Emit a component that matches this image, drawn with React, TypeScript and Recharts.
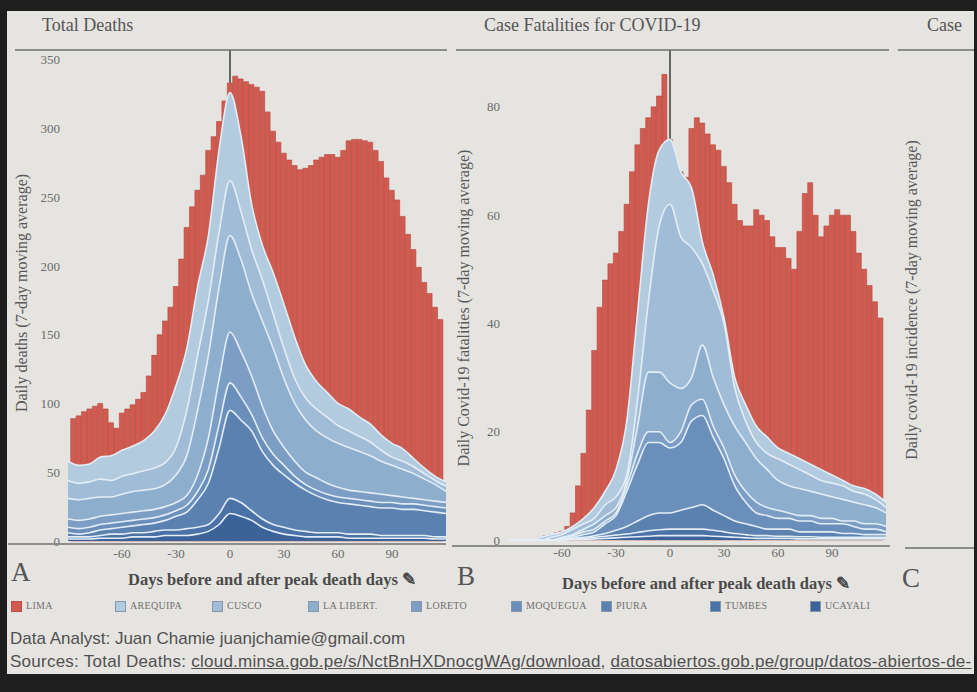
import { Area, Bar, ComposedChart, ReferenceLine, XAxis, YAxis } from "recharts";

// days relative to the peak death day
const barDays = [
  -87, -84, -81, -78, -75, -72, -69, -66, -63, -60, -57, -54, -51, -48, -45, -42, -39, -36, -33, -30, -27, -24, -21,
  -18, -15, -12, -9, -6, -3, 0, 3, 6, 9, 12, 15, 18, 21, 24, 27, 30, 33, 36, 39, 42, 45, 48, 51, 54, 57, 60, 63, 66,
  69, 72, 75, 78, 81, 84, 87, 90, 93, 96, 99, 102, 105, 108, 111, 114, 117,
];
const bandDays = [
  -90, -84, -78, -72, -66, -60, -54, -48, -42, -36, -30, -24, -18, -12, -6, 0, 6, 12, 18, 24, 30, 36, 42, 48, 54, 60,
  66, 72, 78, 84, 90, 96, 102, 108, 114, 120,
];
const dayTicks = [-60, -30, 0, 30, 60, 90];

const regions = ["LIMA", "AREQUIPA", "CUSCO", "LA LIBERT.", "LORETO", "MOQUEGUA", "PIURA", "TUMBES", "UCAYALI"];

// A: total deaths (LIMA bars reach the national total)
const deathsTotal = [
  89, 91, 94, 96, 98, 100, 96, 86, 82, 93, 96, 99, 103, 108, 120, 135, 150, 160, 170, 185, 205, 228, 243, 255, 266,
  284, 294, 305, 320, 333, 338, 336, 334, 332, 330, 327, 312, 298, 290, 282, 277, 273, 270, 271, 273, 277, 279, 281,
  281, 279, 284, 291, 292, 292, 291, 290, 284, 276, 264, 255, 248, 236, 223, 212, 199, 188, 180, 170, 161,
];
// A: top of each stacked band
const arequipaDeaths = [58, 55, 56, 61, 62, 66, 69, 73, 80, 92, 113, 140, 185, 222, 285, 326, 295, 245, 215, 195, 172, 148, 128, 116, 108, 100, 96, 90, 85, 77, 71, 67, 60, 53, 47, 43];
const cuscoDeaths = [44, 42, 43, 45, 44, 47, 49, 51, 53, 57, 68, 95, 135, 175, 225, 262, 240, 212, 190, 165, 140, 118, 104, 96, 90, 84, 80, 76, 72, 66, 61, 58, 54, 49, 44, 40];
const laLibertadDeaths = [31, 30, 31, 32, 32, 34, 36, 37, 38, 41, 48, 62, 95, 135, 185, 222, 205, 180, 160, 140, 118, 100, 88, 80, 75, 71, 68, 65, 62, 58, 55, 52, 49, 45, 41, 36];
const loretoDeaths = [16, 15, 16, 18, 19, 20, 21, 22, 23, 25, 28, 33, 48, 75, 118, 152, 138, 120, 98, 80, 68, 58, 50, 46, 42, 39, 37, 36, 35, 34, 33, 32, 31, 30, 29, 28];
const moqueguaDeaths = [10, 9, 10, 12, 13, 14, 15, 16, 17, 19, 22, 26, 36, 52, 85, 115, 105, 92, 75, 63, 55, 47, 41, 37, 34, 32, 31, 30, 29, 28, 28, 27, 27, 26, 25, 24];
const piuraDeaths = [6, 5, 6, 8, 9, 10, 11, 12, 13, 15, 18, 21, 30, 42, 68, 95, 88, 80, 65, 55, 48, 42, 37, 33, 30, 28, 27, 26, 25, 24, 24, 23, 23, 22, 21, 20];
const tumbesDeaths = [3, 3, 3, 4, 5, 5, 6, 6, 7, 8, 8, 9, 10, 12, 20, 31, 28, 22, 16, 12, 10, 8, 7, 6, 6, 6, 5, 5, 5, 4, 4, 4, 4, 4, 3, 3];
const ucayaliDeaths = [1.5, 1.5, 1.5, 2, 2, 2, 3, 3, 3, 4, 4, 4, 5, 7, 12, 20, 18, 15, 10, 7, 5, 4, 3, 3, 3, 3, 2, 2, 2, 2, 2, 2, 2, 2, 1.5, 1.5];

// B: case fatalities
const fatalitiesTotal = [
  0, 0, 0, 0, 0, 0.5, 0.8, 1, 1.3, 1.6, 2.5, 5, 10, 16, 24, 35, 43, 48, 51, 53, 57, 62, 68, 73, 76, 78, 80, 82, 86, 74,
  70, 68, 67, 76, 78, 77, 75, 73, 72, 69, 66, 62, 59, 58, 58, 61, 60, 59, 56, 54, 54, 52, 50, 57, 64, 66, 60, 56, 58,
  60, 61, 60, 60, 57, 53, 50, 47, 44, 41,
];
const arequipaFatal = [0, 0, 0, 0.5, 1, 1.5, 2.5, 4, 6, 9, 13, 22, 42, 62, 72, 74, 68, 65, 55, 49, 41, 30, 25, 21, 19, 17, 16, 15, 14, 13, 12, 11, 10, 9.5, 8.5, 7];
const cuscoFatal = [0, 0, 0, 0, 0.5, 1, 2, 3, 4, 6.5, 8, 12, 26, 44, 58, 62, 56, 54, 51, 46, 40, 28, 22, 18, 16, 15, 14, 13, 12, 11, 10.5, 10, 9, 8.5, 7.5, 6];
const laLibertadFatal = [0, 0, 0, 0, 0, 0.5, 1, 2, 3, 4.5, 6, 11, 21, 31, 31, 29, 28, 30, 36, 30, 25, 21, 18, 15, 13, 11, 10, 9.5, 9, 8.5, 8, 7.5, 7, 6.5, 6, 5];
const loretoFatal = [0, 0, 0, 0, 0, 0.3, 0.8, 1.5, 2, 3.5, 5, 10, 16, 20, 20, 18, 20, 25, 26, 21, 17, 12, 9, 7, 6, 5.5, 5, 4.5, 4.5, 4, 4, 3.5, 3.5, 3, 3, 2.5];
const moqueguaFatal = [0, 0, 0, 0, 0, 0.2, 0.5, 1, 1.5, 3, 4.5, 9, 14, 18, 18, 17, 18, 22, 23, 19, 15, 10, 7, 5, 4.5, 4, 4, 3.5, 3.5, 3, 3, 3, 2.5, 2, 2, 1.5];
const piuraFatal = [0, 0, 0, 0, 0, 0.1, 0.3, 0.5, 0.8, 1.2, 1.8, 2.5, 3.5, 4.5, 5, 5, 5.5, 6, 6.5, 5.5, 4.5, 3.5, 3, 2.5, 2, 2, 2, 1.5, 1.5, 1.5, 1.5, 1.2, 1.2, 1, 1, 1];
const tumbesFatal = [0, 0, 0, 0, 0, 0, 0.2, 0.3, 0.5, 0.7, 0.9, 1.1, 1.4, 1.7, 1.9, 2, 2, 2, 2, 1.8, 1.5, 1.2, 1, 0.8, 0.8, 0.7, 0.7, 0.6, 0.6, 0.5, 0.5, 0.5, 0.5, 0.5, 0.5, 0.5];
const ucayaliFatal = [0, 0, 0, 0, 0, 0, 0.1, 0.1, 0.2, 0.3, 0.4, 0.5, 0.6, 0.7, 0.8, 0.8, 0.8, 0.8, 0.8, 0.7, 0.6, 0.5, 0.4, 0.3, 0.3, 0.3, 0.3, 0.2, 0.2, 0.2, 0.2, 0.2, 0.2, 0.2, 0.2, 0.2];

const deathTicks = [0, 50, 100, 150, 200, 250, 300, 350];
const fatalTicks = [0, 20, 40, 60, 80];
const incidenceTicks = [0, 100, 200, 300, 400, 500, 600];

const red = "#d15b50";
const blues = ["#b3cbdf", "#a1bcd6", "#8eaecd", "#7c9ec4", "#6b8fbb", "#5b81b1", "#4b72a6", "#3c629a"];
const serif = '"Liberation Serif", "DejaVu Serif", serif';
const sans = '"Liberation Sans", Arial, sans-serif';
const tickStyle = { fill: "#6a6a6a", fontSize: 13, fontFamily: serif };

type PanelProps = {
  left: number;
  totals: number[];
  bands: number[][];
  yMax: number;
  yTicks: number[];
  bottom: number;
};

function Panel({ left, totals, bands, yMax, yTicks, bottom }: PanelProps) {
  const barRows = barDays.map((day, i) => ({ day, total: totals[i] }));
  const bandRows = bandDays.map((day, i) => {
    const row: Record<string, number> = { day };
    bands.forEach((b, k) => (row["b" + k] = b[i]));
    return row;
  });
  const peak = totals[barDays.indexOf(0)];
  const size = { width: 460, height: 600 };
  const margin = { top: 50, right: 14, left: 0, bottom };

  return (
    <>
      <div style={{ position: "absolute", left, top: 0 }}>
        <ComposedChart {...size} data={barRows} margin={margin}>
          <XAxis
            dataKey="day"
            type="number"
            domain={[-90, 120]}
            ticks={dayTicks}
            height={30}
            tickLine={false}
            axisLine={false}
            tick={tickStyle}
          />
          <YAxis domain={[0, yMax]} ticks={yTicks} width={68} tickLine={false} axisLine={false} tick={tickStyle} />
          <ReferenceLine
            segment={[
              { x: 0, y: peak },
              { x: 0, y: yMax },
            ]}
            stroke="#666"
            strokeWidth={2}
          />
          <Bar dataKey="total" fill={red} stroke="#b4463d" strokeWidth={0.6} barSize={5} isAnimationActive={false} />
        </ComposedChart>
      </div>
      <div style={{ position: "absolute", left, top: 0 }}>
        <ComposedChart {...size} data={bandRows} margin={margin}>
          <XAxis dataKey="day" type="number" domain={[-90, 120]} height={30} tick={false} tickLine={false} axisLine={false} />
          <YAxis domain={[0, yMax]} width={68} tick={false} tickLine={false} axisLine={false} />
          {bands.map((_, k) => (
            <Area
              key={k}
              dataKey={"b" + k}
              type="monotone"
              fill={blues[k]}
              fillOpacity={1}
              stroke="#e3edf6"
              strokeWidth={1.6}
              dot={false}
              activeDot={false}
              isAnimationActive={false}
            />
          ))}
        </ComposedChart>
      </div>
    </>
  );
}

const abs = (left: number, top: number, extra: React.CSSProperties = {}): React.CSSProperties => ({
  position: "absolute",
  left,
  top,
  whiteSpace: "nowrap",
  ...extra,
});

function RotatedTitle({ cx, cy, text }: { cx: number; cy: number; text: string }) {
  return (
    <div
      style={abs(cx, cy, {
        transform: "translate(-50%, -50%) rotate(-90deg)",
        fontFamily: serif,
        fontSize: 16,
        color: "#585858",
      })}
    >
      {text}
    </div>
  );
}

function Rule({ x1, x2, y }: { x1: number; x2: number; y: number }) {
  return <div style={abs(x1, y, { width: x2 - x1, height: 2, background: "#8d8d8d" })} />;
}

const legendLeft = [11, 115, 212, 308, 411, 511, 601, 710, 810];

export default function App() {
  const deathBands = [arequipaDeaths, cuscoDeaths, laLibertadDeaths, loretoDeaths, moqueguaDeaths, piuraDeaths, tumbesDeaths, ucayaliDeaths];
  const fatalBands = [arequipaFatal, cuscoFatal, laLibertadFatal, loretoFatal, moqueguaFatal, piuraFatal, tumbesFatal, ucayaliFatal];

  return (
    <div style={abs(0, 0, { width: 977, height: 692, background: "#1e1e1e", overflow: "hidden", fontFamily: serif })}>
      <div style={abs(7, 11, { width: 970, height: 663, background: "#e6e4e0" })} />

      <div style={abs(42, 15, { fontSize: 18, color: "#555" })}>Total Deaths</div>
      <div style={abs(484, 15, { fontSize: 18, color: "#555" })}>Case Fatalities for COVID-19</div>
      <div style={abs(927, 15, { fontSize: 18, color: "#555" })}>Case</div>
      <Rule x1={15} x2={447} y={49} />
      <Rule x1={456} x2={889} y={49} />
      <Rule x1={898} x2={977} y={49} />

      <Panel left={0} totals={deathsTotal} bands={deathBands} yMax={357} yTicks={deathTicks} bottom={29} />
      <Panel left={440} totals={fatalitiesTotal} bands={fatalBands} yMax={90.5} yTicks={fatalTicks} bottom={30} />
      <div style={{ position: "absolute", left: 880, top: 0 }}>
        <ComposedChart width={200} height={600} data={[]} margin={{ top: 50, right: 10, left: 0, bottom: 30 }}>
          <XAxis type="number" domain={[-90, 120]} height={30} tick={false} tickLine={false} axisLine={false} />
          <YAxis domain={[0, 636]} ticks={incidenceTicks} width={90} tickLine={false} axisLine={false} tick={tickStyle} />
        </ComposedChart>
      </div>

      <Rule x1={8} x2={446} y={543} />
      <Rule x1={452} x2={890} y={545} />
      <Rule x1={905} x2={977} y={547} />

      <RotatedTitle cx={22} cy={293} text="Daily deaths (7-day moving average)" />
      <RotatedTitle cx={464} cy={308} text="Daily Covid-19 fatalities (7-day moving average)" />
      <RotatedTitle cx={912} cy={300} text="Daily covid-19 incidence (7-day moving average)" />

      <div style={abs(11, 557, { fontSize: 27, color: "#555" })}>A</div>
      <div style={abs(457, 561, { fontSize: 27, color: "#555" })}>B</div>
      <div style={abs(902, 563, { fontSize: 27, color: "#555" })}>C</div>
      <div style={abs(272, 570, { transform: "translateX(-50%)", fontSize: 16.5, fontWeight: 700, color: "#4a4a4a" })}>
        Days before and after peak death days ✎
      </div>
      <div style={abs(706, 574, { transform: "translateX(-50%)", fontSize: 16.5, fontWeight: 700, color: "#4a4a4a" })}>
        Days before and after peak death days ✎
      </div>

      {regions.map((name, i) => (
        <div key={name}>
          <div
            style={abs(legendLeft[i], 601, {
              width: 11,
              height: 11,
              background: i === 0 ? red : blues[i - 1],
              border: "1px solid " + (i === 0 ? "#c04c44" : "#8797aa"),
              boxSizing: "border-box",
            })}
          />
          <div style={abs(legendLeft[i] + 15, 600, { fontSize: 10, color: "#707070", letterSpacing: 0.3 })}>{name}</div>
        </div>
      ))}

      <div style={abs(10, 629, { fontFamily: sans, fontSize: 17, color: "#505050" })}>
        Data Analyst: Juan Chamie juanjchamie@gmail.com
      </div>
      <div style={abs(10, 652, { fontFamily: sans, fontSize: 17, color: "#505050", letterSpacing: 0.25 })}>
        Sources: Total Deaths: <u>cloud.minsa.gob.pe/s/NctBnHXDnocgWAg/download</u>,{" "}
        <u>datosabiertos.gob.pe/group/datos-abiertos-de-</u>
      </div>

      <div style={abs(974, 0, { width: 3, height: 692, background: "#1e1e1e" })} />
      <div style={abs(0, 674, { width: 977, height: 18, background: "#1e1e1e" })} />
    </div>
  );
}
